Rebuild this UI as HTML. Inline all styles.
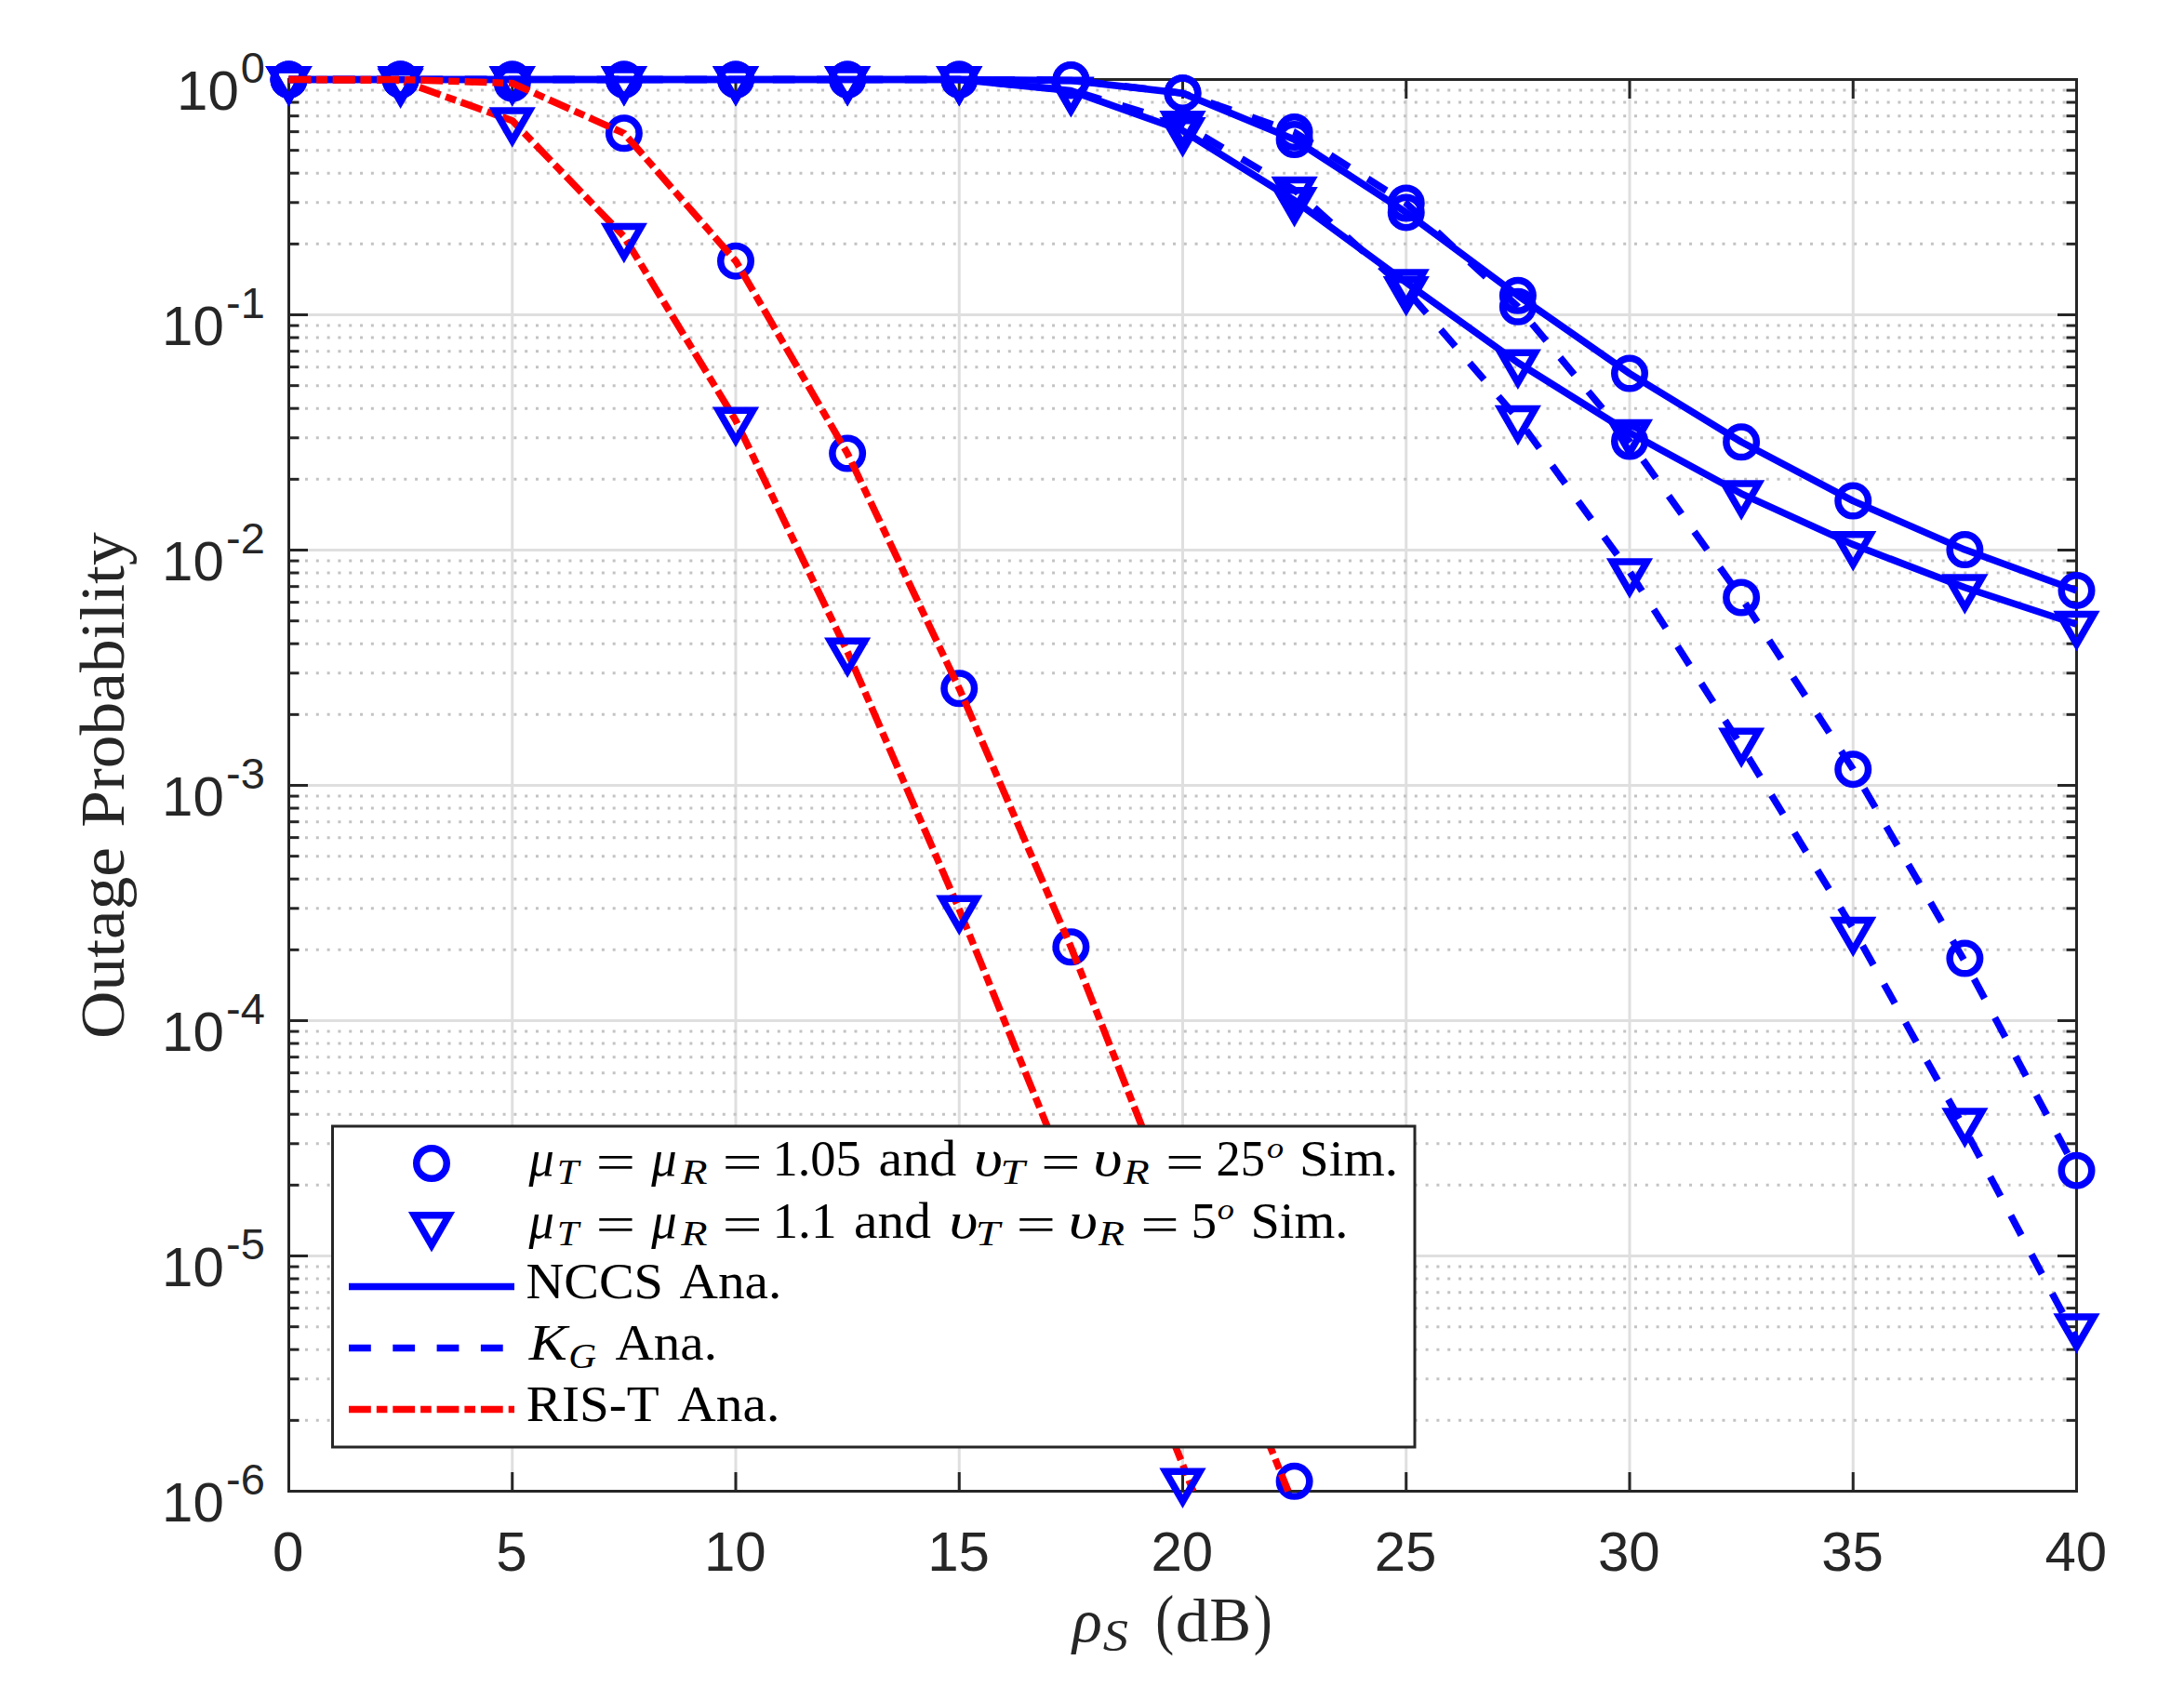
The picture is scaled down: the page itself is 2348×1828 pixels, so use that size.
<!DOCTYPE html>
<html lang="en"><head><meta charset="utf-8"><title>Outage Probability versus transmit SNR</title>
<style>html,body{margin:0;padding:0;background:#fff}svg{display:block}.tk{font-family:"Liberation Sans",Arial,Helvetica,sans-serif;fill:#262626}.lb{font-family:"Liberation Serif","Times New Roman",serif;fill:#262626}.lg{font-family:"Liberation Serif","Times New Roman",serif;fill:#000}.it{font-style:italic}text{font-kerning:none}</style></head><body>
<svg width="2348" height="1828" viewBox="0 0 2348 1828">
<rect width="2348" height="1828" fill="#fff"/>
<g stroke="#dfdfdf" stroke-width="3" fill="none">
<line x1="550.75" y1="85.5" x2="550.75" y2="1603.5"/>
<line x1="791" y1="85.5" x2="791" y2="1603.5"/>
<line x1="1031.25" y1="85.5" x2="1031.25" y2="1603.5"/>
<line x1="1271.5" y1="85.5" x2="1271.5" y2="1603.5"/>
<line x1="1511.75" y1="85.5" x2="1511.75" y2="1603.5"/>
<line x1="1752" y1="85.5" x2="1752" y2="1603.5"/>
<line x1="1992.25" y1="85.5" x2="1992.25" y2="1603.5"/>
<line x1="310.5" y1="338.5" x2="2232.5" y2="338.5"/>
<line x1="310.5" y1="591.5" x2="2232.5" y2="591.5"/>
<line x1="310.5" y1="844.5" x2="2232.5" y2="844.5"/>
<line x1="310.5" y1="1097.5" x2="2232.5" y2="1097.5"/>
<line x1="310.5" y1="1350.5" x2="2232.5" y2="1350.5"/>
</g>
<g stroke="#c3c3c3" stroke-width="3" fill="none" stroke-dasharray="3 8.81">
<line x1="328" y1="262.34" x2="2230.5" y2="262.34"/>
<line x1="328" y1="217.79" x2="2230.5" y2="217.79"/>
<line x1="328" y1="186.18" x2="2230.5" y2="186.18"/>
<line x1="328" y1="161.66" x2="2230.5" y2="161.66"/>
<line x1="328" y1="141.63" x2="2230.5" y2="141.63"/>
<line x1="328" y1="124.69" x2="2230.5" y2="124.69"/>
<line x1="328" y1="110.02" x2="2230.5" y2="110.02"/>
<line x1="328" y1="97.08" x2="2230.5" y2="97.08"/>
<line x1="328" y1="515.34" x2="2230.5" y2="515.34"/>
<line x1="328" y1="470.79" x2="2230.5" y2="470.79"/>
<line x1="328" y1="439.18" x2="2230.5" y2="439.18"/>
<line x1="328" y1="414.66" x2="2230.5" y2="414.66"/>
<line x1="328" y1="394.63" x2="2230.5" y2="394.63"/>
<line x1="328" y1="377.69" x2="2230.5" y2="377.69"/>
<line x1="328" y1="363.02" x2="2230.5" y2="363.02"/>
<line x1="328" y1="350.08" x2="2230.5" y2="350.08"/>
<line x1="328" y1="768.34" x2="2230.5" y2="768.34"/>
<line x1="328" y1="723.79" x2="2230.5" y2="723.79"/>
<line x1="328" y1="692.18" x2="2230.5" y2="692.18"/>
<line x1="328" y1="667.66" x2="2230.5" y2="667.66"/>
<line x1="328" y1="647.63" x2="2230.5" y2="647.63"/>
<line x1="328" y1="630.69" x2="2230.5" y2="630.69"/>
<line x1="328" y1="616.02" x2="2230.5" y2="616.02"/>
<line x1="328" y1="603.08" x2="2230.5" y2="603.08"/>
<line x1="328" y1="1021.34" x2="2230.5" y2="1021.34"/>
<line x1="328" y1="976.79" x2="2230.5" y2="976.79"/>
<line x1="328" y1="945.18" x2="2230.5" y2="945.18"/>
<line x1="328" y1="920.66" x2="2230.5" y2="920.66"/>
<line x1="328" y1="900.63" x2="2230.5" y2="900.63"/>
<line x1="328" y1="883.69" x2="2230.5" y2="883.69"/>
<line x1="328" y1="869.02" x2="2230.5" y2="869.02"/>
<line x1="328" y1="856.08" x2="2230.5" y2="856.08"/>
<line x1="328" y1="1274.34" x2="2230.5" y2="1274.34"/>
<line x1="328" y1="1229.79" x2="2230.5" y2="1229.79"/>
<line x1="328" y1="1198.18" x2="2230.5" y2="1198.18"/>
<line x1="328" y1="1173.66" x2="2230.5" y2="1173.66"/>
<line x1="328" y1="1153.63" x2="2230.5" y2="1153.63"/>
<line x1="328" y1="1136.69" x2="2230.5" y2="1136.69"/>
<line x1="328" y1="1122.02" x2="2230.5" y2="1122.02"/>
<line x1="328" y1="1109.08" x2="2230.5" y2="1109.08"/>
<line x1="328" y1="1527.34" x2="2230.5" y2="1527.34"/>
<line x1="328" y1="1482.79" x2="2230.5" y2="1482.79"/>
<line x1="328" y1="1451.18" x2="2230.5" y2="1451.18"/>
<line x1="328" y1="1426.66" x2="2230.5" y2="1426.66"/>
<line x1="328" y1="1406.63" x2="2230.5" y2="1406.63"/>
<line x1="328" y1="1389.69" x2="2230.5" y2="1389.69"/>
<line x1="328" y1="1375.02" x2="2230.5" y2="1375.02"/>
<line x1="328" y1="1362.08" x2="2230.5" y2="1362.08"/>
</g>
<g stroke="#262626" stroke-width="3" fill="none" stroke-linecap="butt">
<rect x="310.5" y="85.5" width="1922" height="1518"/>
<line x1="550.75" y1="1603.5" x2="550.75" y2="1583"/>
<line x1="550.75" y1="85.5" x2="550.75" y2="106"/>
<line x1="791" y1="1603.5" x2="791" y2="1583"/>
<line x1="791" y1="85.5" x2="791" y2="106"/>
<line x1="1031.25" y1="1603.5" x2="1031.25" y2="1583"/>
<line x1="1031.25" y1="85.5" x2="1031.25" y2="106"/>
<line x1="1271.5" y1="1603.5" x2="1271.5" y2="1583"/>
<line x1="1271.5" y1="85.5" x2="1271.5" y2="106"/>
<line x1="1511.75" y1="1603.5" x2="1511.75" y2="1583"/>
<line x1="1511.75" y1="85.5" x2="1511.75" y2="106"/>
<line x1="1752" y1="1603.5" x2="1752" y2="1583"/>
<line x1="1752" y1="85.5" x2="1752" y2="106"/>
<line x1="1992.25" y1="1603.5" x2="1992.25" y2="1583"/>
<line x1="1992.25" y1="85.5" x2="1992.25" y2="106"/>
<line x1="310.5" y1="338.5" x2="331" y2="338.5"/>
<line x1="2232.5" y1="338.5" x2="2212" y2="338.5"/>
<line x1="310.5" y1="591.5" x2="331" y2="591.5"/>
<line x1="2232.5" y1="591.5" x2="2212" y2="591.5"/>
<line x1="310.5" y1="844.5" x2="331" y2="844.5"/>
<line x1="2232.5" y1="844.5" x2="2212" y2="844.5"/>
<line x1="310.5" y1="1097.5" x2="331" y2="1097.5"/>
<line x1="2232.5" y1="1097.5" x2="2212" y2="1097.5"/>
<line x1="310.5" y1="1350.5" x2="331" y2="1350.5"/>
<line x1="2232.5" y1="1350.5" x2="2212" y2="1350.5"/>
<line x1="310.5" y1="262.34" x2="321.5" y2="262.34"/>
<line x1="2232.5" y1="262.34" x2="2221.5" y2="262.34"/>
<line x1="310.5" y1="217.79" x2="321.5" y2="217.79"/>
<line x1="2232.5" y1="217.79" x2="2221.5" y2="217.79"/>
<line x1="310.5" y1="186.18" x2="321.5" y2="186.18"/>
<line x1="2232.5" y1="186.18" x2="2221.5" y2="186.18"/>
<line x1="310.5" y1="161.66" x2="321.5" y2="161.66"/>
<line x1="2232.5" y1="161.66" x2="2221.5" y2="161.66"/>
<line x1="310.5" y1="141.63" x2="321.5" y2="141.63"/>
<line x1="2232.5" y1="141.63" x2="2221.5" y2="141.63"/>
<line x1="310.5" y1="124.69" x2="321.5" y2="124.69"/>
<line x1="2232.5" y1="124.69" x2="2221.5" y2="124.69"/>
<line x1="310.5" y1="110.02" x2="321.5" y2="110.02"/>
<line x1="2232.5" y1="110.02" x2="2221.5" y2="110.02"/>
<line x1="310.5" y1="97.08" x2="321.5" y2="97.08"/>
<line x1="2232.5" y1="97.08" x2="2221.5" y2="97.08"/>
<line x1="310.5" y1="515.34" x2="321.5" y2="515.34"/>
<line x1="2232.5" y1="515.34" x2="2221.5" y2="515.34"/>
<line x1="310.5" y1="470.79" x2="321.5" y2="470.79"/>
<line x1="2232.5" y1="470.79" x2="2221.5" y2="470.79"/>
<line x1="310.5" y1="439.18" x2="321.5" y2="439.18"/>
<line x1="2232.5" y1="439.18" x2="2221.5" y2="439.18"/>
<line x1="310.5" y1="414.66" x2="321.5" y2="414.66"/>
<line x1="2232.5" y1="414.66" x2="2221.5" y2="414.66"/>
<line x1="310.5" y1="394.63" x2="321.5" y2="394.63"/>
<line x1="2232.5" y1="394.63" x2="2221.5" y2="394.63"/>
<line x1="310.5" y1="377.69" x2="321.5" y2="377.69"/>
<line x1="2232.5" y1="377.69" x2="2221.5" y2="377.69"/>
<line x1="310.5" y1="363.02" x2="321.5" y2="363.02"/>
<line x1="2232.5" y1="363.02" x2="2221.5" y2="363.02"/>
<line x1="310.5" y1="350.08" x2="321.5" y2="350.08"/>
<line x1="2232.5" y1="350.08" x2="2221.5" y2="350.08"/>
<line x1="310.5" y1="768.34" x2="321.5" y2="768.34"/>
<line x1="2232.5" y1="768.34" x2="2221.5" y2="768.34"/>
<line x1="310.5" y1="723.79" x2="321.5" y2="723.79"/>
<line x1="2232.5" y1="723.79" x2="2221.5" y2="723.79"/>
<line x1="310.5" y1="692.18" x2="321.5" y2="692.18"/>
<line x1="2232.5" y1="692.18" x2="2221.5" y2="692.18"/>
<line x1="310.5" y1="667.66" x2="321.5" y2="667.66"/>
<line x1="2232.5" y1="667.66" x2="2221.5" y2="667.66"/>
<line x1="310.5" y1="647.63" x2="321.5" y2="647.63"/>
<line x1="2232.5" y1="647.63" x2="2221.5" y2="647.63"/>
<line x1="310.5" y1="630.69" x2="321.5" y2="630.69"/>
<line x1="2232.5" y1="630.69" x2="2221.5" y2="630.69"/>
<line x1="310.5" y1="616.02" x2="321.5" y2="616.02"/>
<line x1="2232.5" y1="616.02" x2="2221.5" y2="616.02"/>
<line x1="310.5" y1="603.08" x2="321.5" y2="603.08"/>
<line x1="2232.5" y1="603.08" x2="2221.5" y2="603.08"/>
<line x1="310.5" y1="1021.34" x2="321.5" y2="1021.34"/>
<line x1="2232.5" y1="1021.34" x2="2221.5" y2="1021.34"/>
<line x1="310.5" y1="976.79" x2="321.5" y2="976.79"/>
<line x1="2232.5" y1="976.79" x2="2221.5" y2="976.79"/>
<line x1="310.5" y1="945.18" x2="321.5" y2="945.18"/>
<line x1="2232.5" y1="945.18" x2="2221.5" y2="945.18"/>
<line x1="310.5" y1="920.66" x2="321.5" y2="920.66"/>
<line x1="2232.5" y1="920.66" x2="2221.5" y2="920.66"/>
<line x1="310.5" y1="900.63" x2="321.5" y2="900.63"/>
<line x1="2232.5" y1="900.63" x2="2221.5" y2="900.63"/>
<line x1="310.5" y1="883.69" x2="321.5" y2="883.69"/>
<line x1="2232.5" y1="883.69" x2="2221.5" y2="883.69"/>
<line x1="310.5" y1="869.02" x2="321.5" y2="869.02"/>
<line x1="2232.5" y1="869.02" x2="2221.5" y2="869.02"/>
<line x1="310.5" y1="856.08" x2="321.5" y2="856.08"/>
<line x1="2232.5" y1="856.08" x2="2221.5" y2="856.08"/>
<line x1="310.5" y1="1274.34" x2="321.5" y2="1274.34"/>
<line x1="2232.5" y1="1274.34" x2="2221.5" y2="1274.34"/>
<line x1="310.5" y1="1229.79" x2="321.5" y2="1229.79"/>
<line x1="2232.5" y1="1229.79" x2="2221.5" y2="1229.79"/>
<line x1="310.5" y1="1198.18" x2="321.5" y2="1198.18"/>
<line x1="2232.5" y1="1198.18" x2="2221.5" y2="1198.18"/>
<line x1="310.5" y1="1173.66" x2="321.5" y2="1173.66"/>
<line x1="2232.5" y1="1173.66" x2="2221.5" y2="1173.66"/>
<line x1="310.5" y1="1153.63" x2="321.5" y2="1153.63"/>
<line x1="2232.5" y1="1153.63" x2="2221.5" y2="1153.63"/>
<line x1="310.5" y1="1136.69" x2="321.5" y2="1136.69"/>
<line x1="2232.5" y1="1136.69" x2="2221.5" y2="1136.69"/>
<line x1="310.5" y1="1122.02" x2="321.5" y2="1122.02"/>
<line x1="2232.5" y1="1122.02" x2="2221.5" y2="1122.02"/>
<line x1="310.5" y1="1109.08" x2="321.5" y2="1109.08"/>
<line x1="2232.5" y1="1109.08" x2="2221.5" y2="1109.08"/>
<line x1="310.5" y1="1527.34" x2="321.5" y2="1527.34"/>
<line x1="2232.5" y1="1527.34" x2="2221.5" y2="1527.34"/>
<line x1="310.5" y1="1482.79" x2="321.5" y2="1482.79"/>
<line x1="2232.5" y1="1482.79" x2="2221.5" y2="1482.79"/>
<line x1="310.5" y1="1451.18" x2="321.5" y2="1451.18"/>
<line x1="2232.5" y1="1451.18" x2="2221.5" y2="1451.18"/>
<line x1="310.5" y1="1426.66" x2="321.5" y2="1426.66"/>
<line x1="2232.5" y1="1426.66" x2="2221.5" y2="1426.66"/>
<line x1="310.5" y1="1406.63" x2="321.5" y2="1406.63"/>
<line x1="2232.5" y1="1406.63" x2="2221.5" y2="1406.63"/>
<line x1="310.5" y1="1389.69" x2="321.5" y2="1389.69"/>
<line x1="2232.5" y1="1389.69" x2="2221.5" y2="1389.69"/>
<line x1="310.5" y1="1375.02" x2="321.5" y2="1375.02"/>
<line x1="2232.5" y1="1375.02" x2="2221.5" y2="1375.02"/>
<line x1="310.5" y1="1362.08" x2="321.5" y2="1362.08"/>
<line x1="2232.5" y1="1362.08" x2="2221.5" y2="1362.08"/>
</g>
<g class="tk" font-size="60" text-anchor="middle">
<text x="309.8" y="1689">0</text>
<text x="550.05" y="1689">5</text>
<text x="790.3" y="1689">10</text>
<text x="1030.55" y="1689">15</text>
<text x="1270.8" y="1689">20</text>
<text x="1511.05" y="1689">25</text>
<text x="1751.3" y="1689">30</text>
<text x="1991.55" y="1689">35</text>
<text x="2231.8" y="1689">40</text>
</g>
<g class="tk" text-anchor="end">
<text><tspan x="256.8" y="117.7" font-size="60">10</tspan><tspan x="284.8" y="88.5" font-size="47">0</tspan></text>
<text><tspan x="240.8" y="370.7" font-size="60">10</tspan><tspan x="284.8" y="341.5" font-size="47">-1</tspan></text>
<text><tspan x="240.8" y="623.7" font-size="60">10</tspan><tspan x="284.8" y="594.5" font-size="47">-2</tspan></text>
<text><tspan x="240.8" y="876.7" font-size="60">10</tspan><tspan x="284.8" y="847.5" font-size="47">-3</tspan></text>
<text><tspan x="240.8" y="1129.7" font-size="60">10</tspan><tspan x="284.8" y="1100.5" font-size="47">-4</tspan></text>
<text><tspan x="240.8" y="1382.7" font-size="60">10</tspan><tspan x="284.8" y="1353.5" font-size="47">-5</tspan></text>
<text><tspan x="240.8" y="1635.7" font-size="60">10</tspan><tspan x="284.8" y="1606.5" font-size="47">-6</tspan></text>
</g>
<g class="lb">
<text transform="translate(133.4 1114) rotate(-90)"><tspan x="-2.92" y="0" font-size="67" textLength="205.9" lengthAdjust="spacingAndGlyphs">Outage</tspan> <tspan x="224.34" y="0" font-size="67" textLength="317.34" lengthAdjust="spacingAndGlyphs">Probability</tspan></text>
<text><tspan class="it" x="1152.98" y="1764.5" font-size="66" textLength="31.82" lengthAdjust="spacingAndGlyphs">ρ</tspan><tspan class="it" x="1185.76" y="1775.02" font-size="48.82" textLength="27.21" lengthAdjust="spacingAndGlyphs">S</tspan> <tspan x="1242.37" y="1765.49" font-size="71.91" textLength="19.97" lengthAdjust="spacingAndGlyphs">(</tspan><tspan x="1263.72" y="1764.66" font-size="65.38" textLength="35.65" lengthAdjust="spacingAndGlyphs">d</tspan><tspan x="1300.26" y="1764.3" font-size="67.66" textLength="44.82" lengthAdjust="spacingAndGlyphs">B</tspan><tspan x="1347.87" y="1765.49" font-size="71.91" textLength="19.97" lengthAdjust="spacingAndGlyphs">)</tspan></text>
</g>
<g>
<polyline points="310.5,85.5 430.62,85.5 550.75,85.5 670.88,85.5 791,85.5 911.12,85.5 1031.25,85.5 1151.38,86.5 1271.5,100.2 1391.62,150 1511.75,228.4 1631.88,317.8 1752,401.6 1872.12,475.3 1992.25,538.6 2112.38,591.1 2232.5,634.9" fill="none" stroke="#0000ff" stroke-width="7.5" stroke-linejoin="round"/>
<polyline points="310.5,85.5 430.62,85.5 550.75,85.5 670.88,85.5 791,85.5 911.12,85.5 1031.25,85.5 1151.38,97.6 1271.5,140.5 1391.62,215.5 1511.75,303.8 1631.88,390 1752,465.3 1872.12,530.8 1992.25,585.6 2112.38,631.8 2232.5,671.2" fill="none" stroke="#0000ff" stroke-width="7.5" stroke-linejoin="round"/>
<polyline points="310.5,85.5 430.62,85.5 550.75,85.5 670.88,85.5 791,85.5 911.12,85.5 1031.25,85.5 1151.38,86 1271.5,100.2 1391.62,142.1 1511.75,218.5 1631.88,329.8 1752,474.5 1872.12,642.5 1992.25,827.2 2112.38,1034 2232.5,1258.7" fill="none" stroke="#0000ff" stroke-width="7.5" stroke-linejoin="round" stroke-dasharray="23.8 23.5"/>
<polyline points="310.5,85.5 430.62,85.5 550.75,85.5 670.88,85.5 791,85.5 911.12,85.5 1031.25,85.5 1151.38,97 1271.5,133.4 1391.62,204.2 1511.75,311.5 1631.88,450.3 1752,614.7 1872.12,802 1992.25,998.5 2112.38,1214 2232.5,1440" fill="none" stroke="#0000ff" stroke-width="7.5" stroke-linejoin="round" stroke-dasharray="23.8 23.5"/>
<polyline points="310.5,85.5 430.62,86.5 550.75,129.7 670.88,254.3 791,452.1 911.12,700.9 1031.25,977.9 1151.38,1274 1271.5,1574.8 1282.8,1603.5" fill="none" stroke="#ff0000" stroke-width="7.5" stroke-linejoin="round" stroke-dasharray="23.8 6 11.6 5.9"/>
</g>
<g fill="none" stroke="#0000ff" stroke-width="7.5" stroke-linejoin="miter">
<path d="M291.88 74.75H329.12L310.5 107Z"/>
<path d="M412.01 74.75H449.24L430.62 107Z"/>
<path d="M532.13 74.75H569.37L550.75 107Z"/>
<path d="M652.26 74.75H689.49L670.88 107Z"/>
<path d="M772.38 74.75H809.62L791 107Z"/>
<path d="M892.51 74.75H929.74L911.12 107Z"/>
<path d="M1012.63 74.75H1049.87L1031.25 107Z"/>
<path d="M1132.76 86.85H1169.99L1151.38 119.1Z"/>
<path d="M1252.88 129.75H1290.12L1271.5 162Z"/>
<path d="M1373.01 204.75H1410.24L1391.62 237Z"/>
<path d="M1493.13 293.05H1530.37L1511.75 325.3Z"/>
<path d="M1613.26 379.25H1650.49L1631.88 411.5Z"/>
<path d="M1733.38 454.55H1770.62L1752 486.8Z"/>
<path d="M1853.51 520.05H1890.74L1872.12 552.3Z"/>
<path d="M1973.63 574.85H2010.87L1992.25 607.1Z"/>
<path d="M2093.76 621.05H2130.99L2112.38 653.3Z"/>
<path d="M2213.88 660.45H2251.12L2232.5 692.7Z"/>
<path d="M291.88 74.75H329.12L310.5 107Z"/>
<path d="M412.01 74.75H449.24L430.62 107Z"/>
<path d="M532.13 74.75H569.37L550.75 107Z"/>
<path d="M652.26 74.75H689.49L670.88 107Z"/>
<path d="M772.38 74.75H809.62L791 107Z"/>
<path d="M892.51 74.75H929.74L911.12 107Z"/>
<path d="M1012.63 74.75H1049.87L1031.25 107Z"/>
<path d="M1132.76 86.25H1169.99L1151.38 118.5Z"/>
<path d="M1252.88 122.65H1290.12L1271.5 154.9Z"/>
<path d="M1373.01 193.45H1410.24L1391.62 225.7Z"/>
<path d="M1493.13 300.75H1530.37L1511.75 333Z"/>
<path d="M1613.26 439.55H1650.49L1631.88 471.8Z"/>
<path d="M1733.38 603.95H1770.62L1752 636.2Z"/>
<path d="M1853.51 786.15H1890.74L1872.12 818.4Z"/>
<path d="M1973.63 989.45H2010.87L1992.25 1021.7Z"/>
<path d="M2093.76 1194.95H2130.99L2112.38 1227.2Z"/>
<path d="M2213.88 1415.95H2251.12L2232.5 1448.2Z"/>
<path d="M291.88 74.75H329.12L310.5 107Z"/>
<path d="M412.01 77.25H449.24L430.62 109.5Z"/>
<path d="M532.13 118.95H569.37L550.75 151.2Z"/>
<path d="M652.26 243.55H689.49L670.88 275.8Z"/>
<path d="M772.38 441.35H809.62L791 473.6Z"/>
<path d="M892.51 689.25H929.74L911.12 721.5Z"/>
<path d="M1012.63 966.15H1049.87L1031.25 998.4Z"/>
<path d="M1132.76 1263.25H1169.99L1151.38 1295.5Z"/>
<path d="M1252.88 1582.15H1290.12L1271.5 1614.4Z"/>
<circle cx="310.5" cy="85.5" r="16.25"/>
<circle cx="430.62" cy="85.5" r="16.25"/>
<circle cx="550.75" cy="85.5" r="16.25"/>
<circle cx="670.88" cy="85.5" r="16.25"/>
<circle cx="791" cy="85.5" r="16.25"/>
<circle cx="911.12" cy="85.5" r="16.25"/>
<circle cx="1031.25" cy="85.5" r="16.25"/>
<circle cx="1151.38" cy="86.5" r="16.25"/>
<circle cx="1271.5" cy="100.2" r="16.25"/>
<circle cx="1391.62" cy="150" r="16.25"/>
<circle cx="1511.75" cy="228.4" r="16.25"/>
<circle cx="1631.88" cy="317.8" r="16.25"/>
<circle cx="1752" cy="401.6" r="16.25"/>
<circle cx="1872.12" cy="475.3" r="16.25"/>
<circle cx="1992.25" cy="538.6" r="16.25"/>
<circle cx="2112.38" cy="591.1" r="16.25"/>
<circle cx="2232.5" cy="634.9" r="16.25"/>
<circle cx="310.5" cy="85.5" r="16.25"/>
<circle cx="430.62" cy="85.5" r="16.25"/>
<circle cx="550.75" cy="85.5" r="16.25"/>
<circle cx="670.88" cy="85.5" r="16.25"/>
<circle cx="791" cy="85.5" r="16.25"/>
<circle cx="911.12" cy="85.5" r="16.25"/>
<circle cx="1031.25" cy="85.5" r="16.25"/>
<circle cx="1151.38" cy="86" r="16.25"/>
<circle cx="1271.5" cy="100.2" r="16.25"/>
<circle cx="1391.62" cy="142.1" r="16.25"/>
<circle cx="1511.75" cy="218.5" r="16.25"/>
<circle cx="1631.88" cy="329.8" r="16.25"/>
<circle cx="1752" cy="474.5" r="16.25"/>
<circle cx="1872.12" cy="642.5" r="16.25"/>
<circle cx="1992.25" cy="827.2" r="16.25"/>
<circle cx="2112.38" cy="1030.6" r="16.25"/>
<circle cx="2232.5" cy="1258.7" r="16.25"/>
<circle cx="310.5" cy="85.5" r="16.25"/>
<circle cx="430.62" cy="85.5" r="16.25"/>
<circle cx="550.75" cy="89.5" r="16.25"/>
<circle cx="670.88" cy="143.3" r="16.25"/>
<circle cx="791" cy="280.7" r="16.25"/>
<circle cx="911.12" cy="487.6" r="16.25"/>
<circle cx="1031.25" cy="740.3" r="16.25"/>
<circle cx="1151.38" cy="1018.3" r="16.25"/>
<circle cx="1271.5" cy="1322" r="16.25"/>
<circle cx="1391.62" cy="1592.8" r="16.25"/>
</g>
<polyline points="310.5,85.5 430.62,85.5 550.75,89.5 670.88,143.3 791,280.7 911.12,487.6 1031.25,740.3 1151.38,1018.3 1271.5,1322 1384.97,1603.5" fill="none" stroke="#ff0000" stroke-width="7.5" stroke-linejoin="round" stroke-dasharray="23.8 6 11.6 5.9"/>
<rect x="357.5" y="1211" width="1163.5" height="345" fill="#fff" stroke="#262626" stroke-width="3"/>
<g fill="none" stroke="#0000ff" stroke-width="7.5">
<circle cx="464" cy="1251" r="16.25"/>
<path d="M445.38 1306.75H482.62L464 1339Z"/>
<line x1="375" y1="1383.4" x2="553" y2="1383.4"/>
<line x1="375" y1="1449.5" x2="553" y2="1449.5" stroke-dasharray="23.8 23.5"/>
<line x1="375" y1="1515.5" x2="553" y2="1515.5" stroke="#ff0000" stroke-dasharray="23.8 6 11.6 5.9"/>
</g>
<g class="lg">
<text><tspan class="it" x="568.45" y="1264.1" font-size="54" textLength="27.36" lengthAdjust="spacingAndGlyphs">μ</tspan><tspan class="it" x="598.74" y="1272.6" font-size="38" textLength="23.47" lengthAdjust="spacingAndGlyphs">T</tspan> <tspan x="640.62" y="1268.1" font-size="54" textLength="42.78" lengthAdjust="spacingAndGlyphs">=</tspan> <tspan class="it" x="700.35" y="1264.1" font-size="54" textLength="27.46" lengthAdjust="spacingAndGlyphs">μ</tspan><tspan class="it" x="732.25" y="1272.6" font-size="38" textLength="28.32" lengthAdjust="spacingAndGlyphs">R</tspan> <tspan x="776.58" y="1268.1" font-size="54" textLength="43.27" lengthAdjust="spacingAndGlyphs">=</tspan> <tspan x="830.51" y="1264.1" font-size="54" textLength="95.31" lengthAdjust="spacingAndGlyphs">1.05</tspan> <tspan x="944.56" y="1264.1" font-size="54" textLength="83.75" lengthAdjust="spacingAndGlyphs">and</tspan> <tspan class="it" x="1047.11" y="1264.1" font-size="54" textLength="30.94" lengthAdjust="spacingAndGlyphs">υ</tspan><tspan class="it" x="1075.42" y="1272.6" font-size="38" textLength="26.2" lengthAdjust="spacingAndGlyphs">T</tspan> <tspan x="1119.13" y="1268.1" font-size="54" textLength="42.66" lengthAdjust="spacingAndGlyphs">=</tspan> <tspan class="it" x="1175.37" y="1264.1" font-size="54" textLength="31.29" lengthAdjust="spacingAndGlyphs">υ</tspan><tspan class="it" x="1207.65" y="1272.6" font-size="38" textLength="28.02" lengthAdjust="spacingAndGlyphs">R</tspan> <tspan x="1252.93" y="1268.1" font-size="54" textLength="41.57" lengthAdjust="spacingAndGlyphs">=</tspan> <tspan x="1307.5" y="1264.1" font-size="54" textLength="52.35" lengthAdjust="spacingAndGlyphs">25</tspan><tspan class="it" x="1362.02" y="1244.79" font-size="31.6" textLength="18.16" lengthAdjust="spacingAndGlyphs">o</tspan> <tspan x="1396.99" y="1264.1" font-size="54" textLength="106.07" lengthAdjust="spacingAndGlyphs">Sim.</tspan></text>
<text><tspan class="it" x="568.45" y="1330.5" font-size="54" textLength="27.36" lengthAdjust="spacingAndGlyphs">μ</tspan><tspan class="it" x="598.74" y="1339" font-size="38" textLength="23.47" lengthAdjust="spacingAndGlyphs">T</tspan> <tspan x="640.62" y="1334.5" font-size="54" textLength="42.78" lengthAdjust="spacingAndGlyphs">=</tspan> <tspan class="it" x="700.35" y="1330.5" font-size="54" textLength="27.46" lengthAdjust="spacingAndGlyphs">μ</tspan><tspan class="it" x="732.25" y="1339" font-size="38" textLength="28.32" lengthAdjust="spacingAndGlyphs">R</tspan> <tspan x="776.58" y="1334.5" font-size="54" textLength="43.27" lengthAdjust="spacingAndGlyphs">=</tspan> <tspan x="830.44" y="1330.5" font-size="54" textLength="69.08" lengthAdjust="spacingAndGlyphs">1.1</tspan> <tspan x="917.98" y="1330.5" font-size="54" textLength="82.92" lengthAdjust="spacingAndGlyphs">and</tspan> <tspan class="it" x="1020.51" y="1330.5" font-size="54" textLength="30.94" lengthAdjust="spacingAndGlyphs">υ</tspan><tspan class="it" x="1048.82" y="1339" font-size="38" textLength="26.2" lengthAdjust="spacingAndGlyphs">T</tspan> <tspan x="1092.53" y="1334.5" font-size="54" textLength="42.66" lengthAdjust="spacingAndGlyphs">=</tspan> <tspan class="it" x="1148.77" y="1330.5" font-size="54" textLength="31.29" lengthAdjust="spacingAndGlyphs">υ</tspan><tspan class="it" x="1181.05" y="1339" font-size="38" textLength="28.02" lengthAdjust="spacingAndGlyphs">R</tspan> <tspan x="1226.33" y="1334.5" font-size="54" textLength="41.57" lengthAdjust="spacingAndGlyphs">=</tspan> <tspan x="1280.5" y="1330.5" font-size="54" textLength="27.55" lengthAdjust="spacingAndGlyphs">5</tspan><tspan class="it" x="1308.72" y="1311.19" font-size="31.6" textLength="18.16" lengthAdjust="spacingAndGlyphs">o</tspan> <tspan x="1344.43" y="1330.5" font-size="54" textLength="104.99" lengthAdjust="spacingAndGlyphs">Sim.</tspan></text>
<text><tspan x="565.47" y="1396" font-size="54" textLength="147.53" lengthAdjust="spacingAndGlyphs">NCCS</tspan> <tspan x="730.54" y="1396" font-size="54" textLength="109.84" lengthAdjust="spacingAndGlyphs">Ana.</tspan></text>
<text><tspan class="it" x="568.72" y="1462.4" font-size="54" textLength="41.13" lengthAdjust="spacingAndGlyphs">K</tspan><tspan class="it" x="611.22" y="1470.9" font-size="38" textLength="29.87" lengthAdjust="spacingAndGlyphs">G</tspan> <tspan x="661.54" y="1462.4" font-size="54" textLength="109.42" lengthAdjust="spacingAndGlyphs">Ana.</tspan></text>
<text><tspan x="565.75" y="1528.3" font-size="54" textLength="142.9" lengthAdjust="spacingAndGlyphs">RIS-T</tspan> <tspan x="728.24" y="1528.3" font-size="54" textLength="110.05" lengthAdjust="spacingAndGlyphs">Ana.</tspan></text>
</g>
</svg></body></html>
